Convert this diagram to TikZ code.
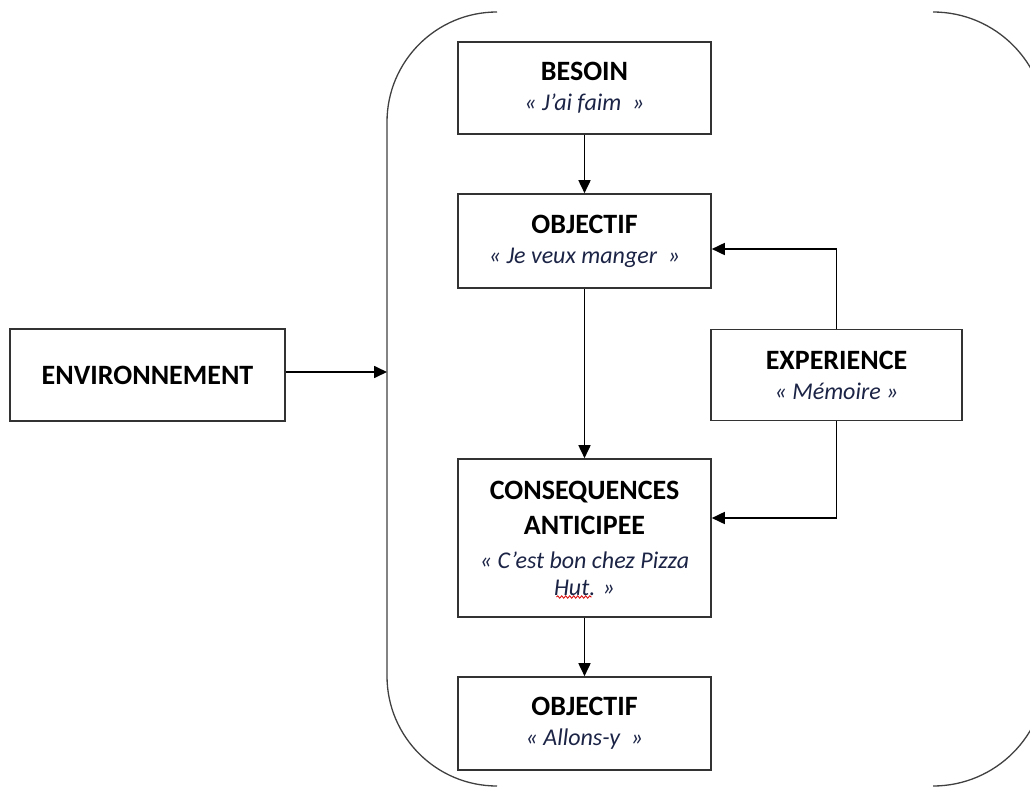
\documentclass[tikz,border=0pt]{standalone}
\usepackage{fontspec}
\setmainfont{Carlito}
\usetikzlibrary{arrows.meta,decorations.pathmorphing}
\definecolor{quote}{RGB}{28,36,70}
\newcommand{\hd}[1]{{\fontsize{28}{30}\selectfont\bfseries #1}}
\newcommand{\qt}[1]{{\fontsize{24}{30}\selectfont\itshape\color{quote}#1}}
\begin{document}
\begin{tikzpicture}[x=1pt,y=-1pt,
  box/.style={draw=black!80,line width=1.6pt,align=center,inner sep=0pt,
    font=\fontsize{24}{30}\selectfont},
  arr/.style={line width=1.7pt,-{Triangle[length=13pt,width=12pt]}},
  curly/.style={draw=black!75,line width=1.3pt}]
\useasboundingbox (0,0) rectangle (1030,789);

% rounded brackets enclosing the decision chain
\draw[curly,rounded corners=110pt] (497,12) -- (387,12) -- (387,786) -- (497,786);
\draw[curly,rounded corners=113pt] (933,12) -- (1046,12) -- (1046,786) -- (933,786);

% boxes
\node[box,minimum width=253pt,minimum height=92pt] (besoin) at (584.5,88)
  {\hd{BESOIN}\\\qt{« J’ai faim~ »}};
\node[box,minimum width=253pt,minimum height=94pt] (obj1) at (584.5,241)
  {\hd{OBJECTIF}\\\qt{« Je veux manger~ »}};
\node[box,minimum width=275pt,minimum height=92pt] (env) at (147.5,375)
  {\hd{ENVIRONNEMENT}};
\node[box,minimum width=251pt,minimum height=91pt] (exp) at (836.5,375)
  {\hd{EXPERIENCE}\\\qt{« Mémoire »}};
\node[box,minimum width=253pt,minimum height=158pt] (cons) at (584.5,538)
  {\hd{CONSEQUENCES}\\[5pt]\hd{ANTICIPEE}\\[4pt]
   \qt{« C’est bon chez Pizza}\\[-3pt]\qt{Hut. »}};
\node[box,minimum width=253pt,minimum height=93pt] (obj2) at (584.5,723.5)
  {\hd{OBJECTIF}\\\qt{« Allons-y~ »}};

% spelling mark under the last word
\draw[red!85!black,line width=0.8pt,decorate,
  decoration={snake,amplitude=1.2pt,segment length=4pt}]
  ([xshift=-28pt,yshift=-59pt]cons.center) -- ([xshift=7pt,yshift=-59pt]cons.center);

% connectors
\coordinate (bracketL) at (387,372);
\draw[arr] (env.east |- bracketL) -- (bracketL);
\draw[arr] (besoin) -- (obj1);
\draw[arr] (obj1) -- (cons);
\draw[arr] (cons) -- (obj2);
\draw[arr] (exp.north) |- ([yshift=-8pt]obj1.east);
\draw[arr] (exp.south) |- ([yshift=20pt]cons.east);
\end{tikzpicture}
\end{document}
